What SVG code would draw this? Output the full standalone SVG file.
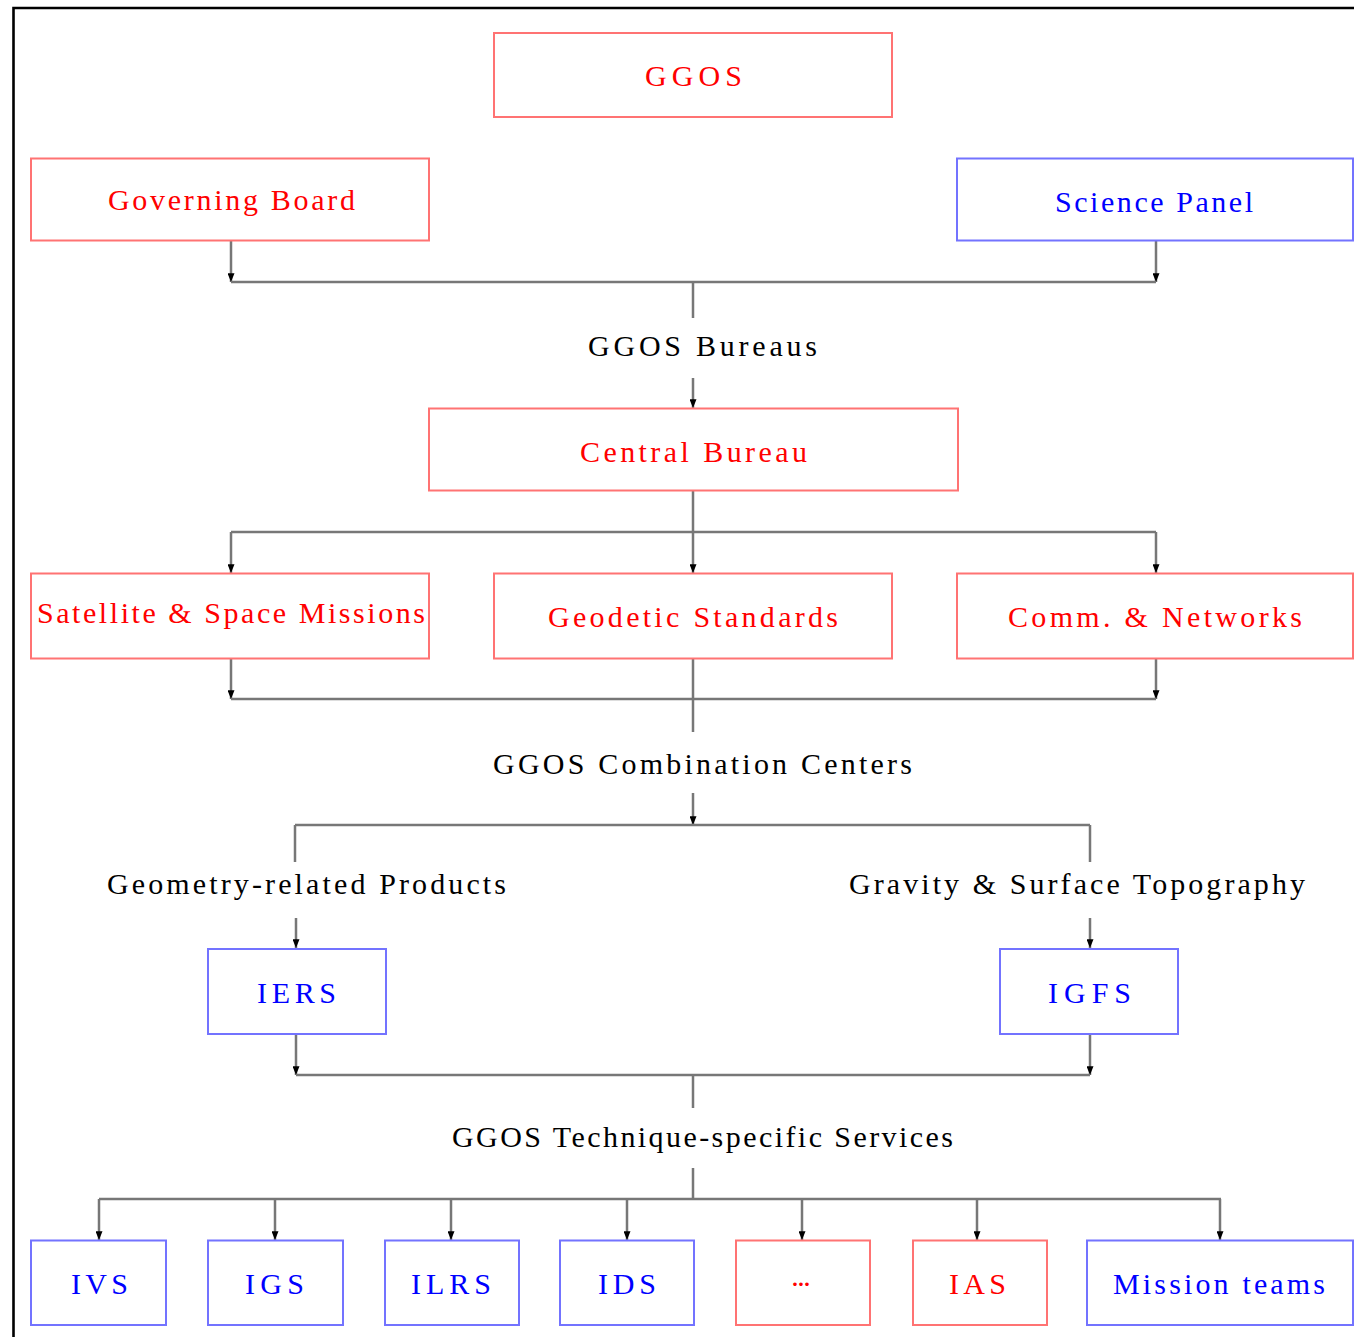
<svg xmlns="http://www.w3.org/2000/svg" width="1354" height="1337" viewBox="0 0 1354 1337">
<style>
.r rect{fill:#fff;stroke:#ff7373;stroke-width:2}
.b rect{fill:#fff;stroke:#7373ff;stroke-width:2}
text{font-family:"Liberation Serif","Times New Roman",serif;font-size:30px}
.r text{fill:#ff0000}
.b text{fill:#0000ff}
.k{fill:#000}
#connectors path{fill:none;stroke:#777;stroke-width:2.5}
#connectors .a{marker-end:url(#ah)}
</style>
<defs>
<marker id="ah" viewBox="0 0 10 8" refX="10" refY="4" markerWidth="9" markerHeight="7" orient="auto" markerUnits="userSpaceOnUse">
<path d="M0,0 L10,4 L0,8 Z" fill="#000"/>
</marker>
</defs>
<rect width="1354" height="1337" fill="#fff"/>
<g id="frame" stroke="#000" stroke-width="2.6" fill="none">
<path d="M13.5,1337 L13.5,8 L1354,8"/>
</g>
<g id="connectors">
<path class="a" d="M231,241 V282"/>
<path class="a" d="M1156,241 V282"/>
<path d="M231,282 H1156"/>
<path d="M693,282 V318"/>
<path class="a" d="M693,378 V408"/>
<path class="a" d="M693,491 V573"/>
<path d="M231,532 H1156"/>
<path class="a" d="M231,532 V573"/>
<path class="a" d="M1156,532 V573"/>
<path class="a" d="M231,659 V699"/>
<path class="a" d="M1156,659 V699"/>
<path d="M231,699 H1156"/>
<path d="M693,659 V732"/>
<path class="a" d="M693,793 V825"/>
<path d="M295,825 H1090"/>
<path d="M295,825 V862"/>
<path d="M1090,825 V862"/>
<path class="a" d="M296,918 V948"/>
<path class="a" d="M1090,918 V948"/>
<path class="a" d="M296,1035 V1075"/>
<path class="a" d="M1090,1035 V1075"/>
<path d="M296,1075 H1090"/>
<path d="M693,1075 V1108"/>
<path d="M693,1168 V1199"/>
<path d="M99,1199 H1221"/>
<path class="a" d="M99,1199 V1240"/>
<path class="a" d="M275,1199 V1240"/>
<path class="a" d="M451,1199 V1240"/>
<path class="a" d="M627,1199 V1240"/>
<path class="a" d="M802,1199 V1240"/>
<path class="a" d="M977,1199 V1240"/>
<path class="a" d="M1220,1199 V1240"/>
</g>
<g id="labels">
<text class="k" x="588" y="356" textLength="229" lengthAdjust="spacing">GGOS Bureaus</text>
<text class="k" x="493" y="774" textLength="419" lengthAdjust="spacing">GGOS Combination Centers</text>
<text class="k" x="107" y="894" textLength="399" lengthAdjust="spacing">Geometry-related Products</text>
<text class="k" x="849" y="894" textLength="456" lengthAdjust="spacing">Gravity &amp; Surface Topography</text>
<text class="k" x="452" y="1147" textLength="501" lengthAdjust="spacing">GGOS Technique-specific Services</text>
</g>
<g id="ggos" class="r"><rect x="494" y="33" width="398" height="84"/><text x="645" y="86" textLength="97" lengthAdjust="spacing">GGOS</text></g>
<g id="governing-board" class="r"><rect x="31" y="158.5" width="398" height="82"/><text x="108" y="210" textLength="247" lengthAdjust="spacing">Governing Board</text></g>
<g id="science-panel" class="b"><rect x="957" y="158.5" width="396" height="82"/><text x="1055" y="212" textLength="198" lengthAdjust="spacing">Science Panel</text></g>
<g id="central-bureau" class="r"><rect x="429" y="408.5" width="529" height="82"/><text x="580" y="462" textLength="227" lengthAdjust="spacing">Central Bureau</text></g>
<g id="satellite" class="r"><rect x="31" y="573.5" width="398" height="85"/><text x="37" y="623" textLength="388" lengthAdjust="spacing">Satellite &amp; Space Missions</text></g>
<g id="geodetic" class="r"><rect x="494" y="573.5" width="398" height="85"/><text x="548" y="627" textLength="290" lengthAdjust="spacing">Geodetic Standards</text></g>
<g id="comm" class="r"><rect x="957" y="573.5" width="396" height="85"/><text x="1008" y="627" textLength="294" lengthAdjust="spacing">Comm. &amp; Networks</text></g>
<g id="iers" class="b"><rect x="208" y="949" width="178" height="85"/><text x="257" y="1003" textLength="79" lengthAdjust="spacing">IERS</text></g>
<g id="igfs" class="b"><rect x="1000" y="949" width="178" height="85"/><text x="1048" y="1003" textLength="83" lengthAdjust="spacing">IGFS</text></g>
<g id="ivs" class="b"><rect x="31" y="1240.5" width="135" height="84.5"/><text x="71" y="1294" textLength="57" lengthAdjust="spacing">IVS</text></g>
<g id="igs" class="b"><rect x="208" y="1240.5" width="135" height="84.5"/><text x="245" y="1294" textLength="59" lengthAdjust="spacing">IGS</text></g>
<g id="ilrs" class="b"><rect x="385" y="1240.5" width="134" height="84.5"/><text x="411" y="1294" textLength="80" lengthAdjust="spacing">ILRS</text></g>
<g id="ids" class="b"><rect x="560" y="1240.5" width="134" height="84.5"/><text x="598" y="1294" textLength="58" lengthAdjust="spacing">IDS</text></g>
<g id="dots" class="r"><rect x="736" y="1240.5" width="134" height="84.5"/><text x="790" y="1294" textLength="22" lengthAdjust="spacing">···</text></g>
<g id="ias" class="r"><rect x="913" y="1240.5" width="134" height="84.5"/><text x="949" y="1294" textLength="57" lengthAdjust="spacing">IAS</text></g>
<g id="mission-teams" class="b"><rect x="1087" y="1240.5" width="266" height="84.5"/><text x="1113" y="1294" textLength="212" lengthAdjust="spacing">Mission teams</text></g>
</svg>
